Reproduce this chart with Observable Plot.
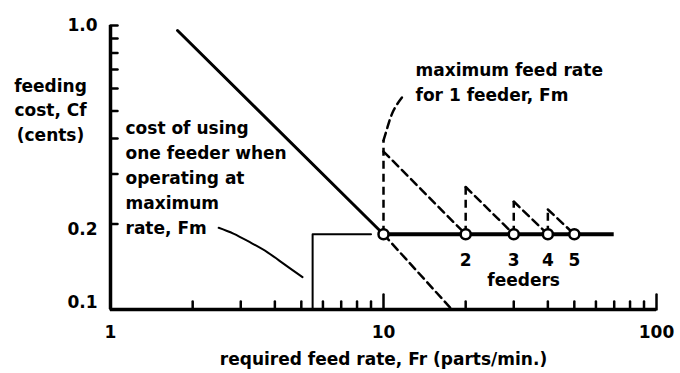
<!DOCTYPE html>
<html><head><meta charset="utf-8">
<script src="https://cdn.jsdelivr.net/npm/d3@7"></script>
<script src="https://cdn.jsdelivr.net/npm/@observablehq/plot@0.6"></script>
<style>
html,body{margin:0;padding:0;background:#fff;}
#chart svg{display:block;}
</style></head><body><div id="chart"></div>
<script>
// ---- data (log-log chart) ----
const xMinorTicks = [2,3,4,5,6,7,8,9,20,30,40,50,60,70,80,90];
const xMajorTicks = [1,10,100];
const yTicks = [0.2,0.3,0.4,0.5,0.6,0.7,0.8,0.9,1.0];
const xTickLabels = [1,10,100];
const yTickLabels = [0.1,0.2,1.0];

// cost of one feeder vs required feed rate (solid part and dashed extension)
const oneFeederRate = [1.76, 10];
const oneFeederCost = [0.96, 0.184];
const oneFeederExtRate = [10, 17.8];
const oneFeederExtCost = [0.184, 0.1];

// minimum feeding cost line (multiple feeders each at Fm)
const minCostRate = [10, 70];
const minCost = 0.184;
const feederRates = [10, 20, 30, 40, 50];
const feederLabels = ["", "2", "3", "4", "5"];
const peakCost = [0.36, 0.27, 0.24, 0.225];
const fmTopCost = 0.394;

// step line (cost of one feeder at Fm)
const stepRate = [5.5, 5.5, 9.0];
const stepCost = [0.1, 0.184, 0.184];

// annotation leaders
const leaderFmRate = [10, 10.34, 10.88, 11.84];
const leaderFmCost = [0.394, 0.438, 0.502, 0.567];
const leaderOneRate = [2.49, 2.82, 3.26, 3.76, 4.30, 5.05];
const leaderOneCost = [0.194, 0.185, 0.172, 0.159, 0.145, 0.130];

const yTitle = "feeding\ncost, Cf\n(cents)";
const xTitle = "required feed rate, Fr (parts/min.)";
const noteOne = "cost of using\none feeder when\noperating at\nmaximum\nrate, Fm";
const noteFm = "maximum feed rate\nfor 1 feeder, Fm";
const feedersText = "feeders";

// ---- helpers ----
const tickShape = {draw(ctx, l) { ctx.moveTo(0, 0); ctx.lineTo(0, -l); }};
const dash = "8,5";

const sawtooth = [];
peakCost.forEach((p, i) => {
  sawtooth.push({seg: i, x: feederRates[i], y: p}, {seg: i, x: feederRates[i + 1], y: minCost});
});
const verticals = peakCost.map((p, i) => ({x: feederRates[i], y2: i === 0 ? fmTopCost : p}));
const yLabel = d => d.toFixed(1);

const chart = Plot.plot({
  width: 680, height: 373,
  marginLeft: 110, marginRight: 24, marginTop: 25, marginBottom: 64,
  x: {type: "log", domain: [1, 100], axis: null},
  y: {type: "log", domain: [0.1, 1], axis: null},
  style: "font-family: 'DejaVu Sans', sans-serif; font-size: 17px; font-weight: bold; background: white; color: black; overflow: visible;",
  marks: [
    // axes
    Plot.ruleX([1], {y1: 0.1, y2: 1, strokeWidth: 3.5}),
    Plot.ruleY([0.1], {x1: 1, x2: 100, strokeWidth: 3.5}),
    Plot.vector(xMinorTicks, {x: d => d, y: 0.1, length: 8, anchor: "start", shape: tickShape, strokeWidth: 2.5}),
    Plot.vector(xMajorTicks, {x: d => d, y: 0.1, length: 15, anchor: "start", shape: tickShape, strokeWidth: 2.5}),
    Plot.vector(yTicks, {x: 1, y: d => d, length: 7, rotate: 90, anchor: "start", shape: tickShape, strokeWidth: 2.5}),
    Plot.text(xTickLabels, {x: d => d, y: 0.1, dy: 23, text: d => String(d)}),
    Plot.text([yTickLabels[0]], {x: 1, y: d => d, dx: -13, dy: -7, textAnchor: "end", text: yLabel}),
    Plot.text([yTickLabels[1]], {x: 1, y: d => d, dx: -13, dy: 6, textAnchor: "end", text: yLabel}),
    Plot.text([yTickLabels[2]], {x: 1, y: d => d, dx: -13, dy: 0, textAnchor: "end", text: yLabel}),
    Plot.text([yTitle], {x: 1, y: 0.51, dx: -60, text: d => d, lineHeight: 1.45}),
    Plot.text([xTitle], {x: 10, y: 0.1, dy: 50, text: d => d}),

    // step line and its leader
    Plot.line(d3.zip(stepRate, stepCost), {strokeWidth: 2}),
    Plot.line(d3.zip(leaderOneRate, leaderOneCost), {strokeWidth: 2, curve: "natural"}),

    // one-feeder cost
    Plot.line(d3.zip(oneFeederRate, oneFeederCost), {strokeWidth: 3}),
    Plot.line(d3.zip(oneFeederExtRate, oneFeederExtCost), {strokeWidth: 2.5, strokeDasharray: dash}),

    // multi-feeder sawtooth
    Plot.ruleX(verticals, {x: "x", y1: minCost, y2: "y2", strokeWidth: 2.5, strokeDasharray: dash}),
    Plot.line(sawtooth, {x: "x", y: "y", z: "seg", strokeWidth: 2.5, strokeDasharray: dash}),
    Plot.line(d3.zip(leaderFmRate, leaderFmCost), {strokeWidth: 2.5, strokeDasharray: dash, curve: "natural"}),

    // minimum cost line and feeder points
    Plot.ruleY([minCost], {x1: minCostRate[0], x2: minCostRate[1], strokeWidth: 4}),
    Plot.dot(feederRates, {x: d => d, y: minCost, r: 5, fill: "white", stroke: "black", strokeWidth: 2.5}),
    Plot.text(feederRates, {x: d => d, y: 0.149, text: (d, i) => feederLabels[i]}),
    Plot.text([feedersText], {x: 32.6, y: 0.126, text: d => d}),

    // notes
    Plot.text([noteOne], {x: 1.135, y: 0.296, text: d => d, textAnchor: "start", lineHeight: 1.47}),
    Plot.text([noteFm], {x: 13.1, y: 0.638, text: d => d, textAnchor: "start", lineHeight: 1.47})
  ]
});
document.getElementById("chart").appendChild(chart);
</script></body></html>
